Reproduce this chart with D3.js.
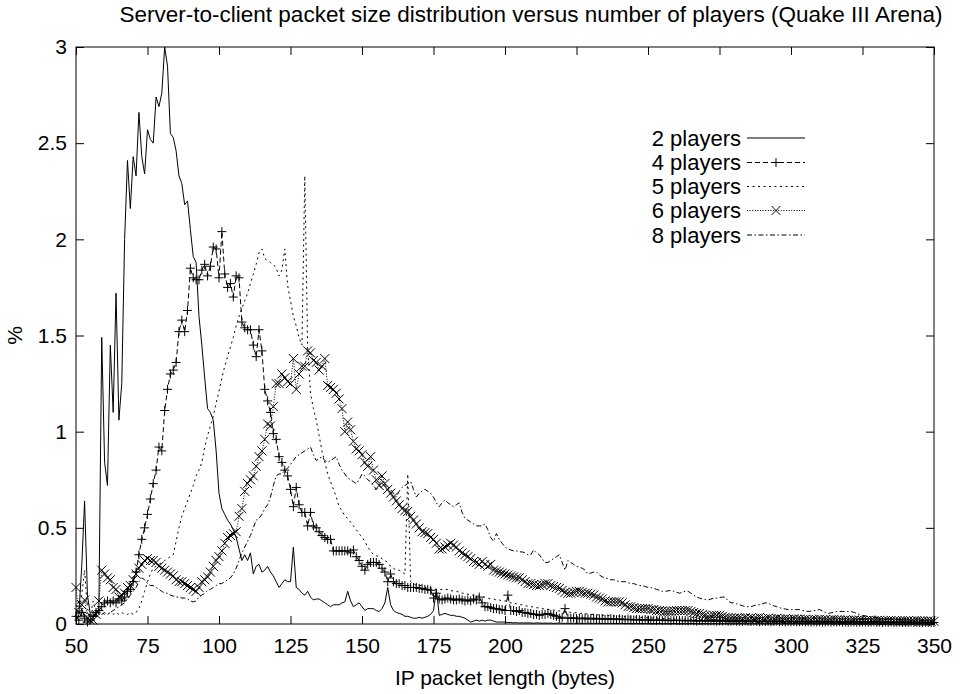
<!DOCTYPE html>
<html><head><meta charset="utf-8">
<script src="https://cdn.jsdelivr.net/npm/d3@7"></script>
<style>
body{margin:0;background:#fff;}
svg text{font-family:"Liberation Sans",Arial,Helvetica,sans-serif;fill:#000;}
</style></head><body>
<svg id="chart" width="960" height="694"></svg>
<script>
const chartTitle = "Server-to-client packet size distribution versus number of players (Quake III Arena)";
const xAxisTitle = "IP packet length (bytes)";
const yAxisTitle = "%";
const xTickValues = [50,75,100,125,150,175,200,225,250,275,300,325,350];
const yTickValues = [0,0.5,1,1.5,2,2.5,3];
const yTickLabels = ["0","0.5","1","1.5","2","2.5","3"];
const seriesNames = ["2 players","4 players","5 players","6 players","8 players"];
const firstByte = 50;   // packet length (bytes) of the first value in every series, one value per byte

const players2 = [
0.02,0.05,0.30,0.64,0.15,0.05,0.04,0.05,0.08,1.49,
0.84,0.72,1.45,1.10,1.72,1.06,1.25,2.00,2.41,2.16,
2.43,2.33,2.66,2.43,2.34,2.57,2.52,2.50,2.74,2.69,
2.76,3.00,2.90,2.55,2.53,2.46,2.33,2.29,2.18,2.20,
2.05,1.91,1.88,1.60,1.45,1.28,1.12,1.10,1.06,0.90,
0.68,0.60,0.57,0.54,0.52,0.49,0.45,0.39,0.33,0.36,
0.33,0.37,0.26,0.30,0.31,0.27,0.28,0.30,0.27,0.25,
0.22,0.19,0.21,0.23,0.22,0.22,0.40,0.19,0.18,
0.16,0.15,0.17,0.14,0.125,0.13,0.13,0.12,0.11,0.10,
0.09,0.10,0.10,0.10,0.11,0.115,0.17,0.12,0.09,0.10,
0.11,0.09,0.07,0.08,0.08,0.08,0.07,0.065,0.08,0.11,
0.19,0.10,0.07,0.06,0.055,0.05,0.04,0.04,0.035,0.03,
0.03,0.035,0.03,0.035,0.04,0.05,0.07,0.18,0.045,
0.05,0.055,0.05,0.045,0.045,0.04,0.04,0.035,0.03,0.02,
0.01,0.015,0.02,0.015,0.02,0.015,0.02,0.02,0.015,0.01,
0.01,0.01,0.01,0.008,0.008,0.006,0.007,0.005,0.006,0.005,
0.006,0.005,0.004,0.006,0.005,0.004,0.005,0.004,0.005,0.003,
0.004,0.005,0.004,0.003,0.004,0.003,0.004,0.003,0.004,0.003,
0.003,0.004,0.003,0.003,0.004,0.003,0.003,0.003,0.002,0.003,
0.003,0.002,0.003,0.003,0.002,0.003,0.002,0.003,0.002,0.002,
0.003,0.002,0.002,0.002,0.002,0.002,0.003,0.002,0.002,
0.002,0.002,0.003,0.002,0.001,0.002,0.002,0.002,0.003,0.002,
0.002,0.001,0.002,0.002,0.002,0.001,0.002,0.002,0.001,0.002,
0.002,0.002,0.001,0.002,0.001,0.002,0.002,0.001,0.002,0.001,
0.002,0.001,0.001,0.002,0.001,0.002,0.001,0.001,0.002,0.001,
0.001,0.002,0.001,0.001,0.001,0.002,0.001,0.001,0.001,0.002,
0.001,0.001,0.001,0.001,0.002,0.001,0.001,0.001,0.001,0.001,
0.001,0.001,0.002,0.001,0.001,0.001,0.001,0.001,0.001,
0.001,0.001,0.001,0.001,0.001,0.001,0.002,0.001,0.001,0.001,
0.001,0.001,0.001,0.001,0.001,0.001,0.001,0.001,0.001,0.001,
0.001,0.001,0.001,0.001,0.001];

const players4 = [
0.04,0.02,0.06,0.03,0.01,0.02,0.04,0.06,0.07,0.09,
0.11,0.12,0.11,0.12,0.11,0.13,0.12,0.14,0.17,0.18,
0.22,0.27,0.36,0.44,0.50,0.57,0.65,0.73,0.80,0.92,
0.90,1.11,1.22,1.30,1.32,1.36,1.52,1.58,1.52,1.63,
1.85,1.80,1.79,1.79,1.84,1.87,1.81,1.86,1.96,1.95,
1.80,2.04,1.82,1.75,1.77,1.70,1.81,1.80,1.57,1.54,
1.53,1.53,1.45,1.39,1.53,1.42,1.22,1.16,1.10,0.99,
0.96,0.87,0.84,0.80,0.77,0.70,0.61,0.71,0.62,
0.58,0.58,0.51,0.58,0.51,0.50,0.48,0.46,0.45,0.44,
0.44,0.38,0.38,0.38,0.38,0.38,0.38,0.37,0.385,0.35,
0.33,0.30,0.28,0.31,0.32,0.32,0.32,0.31,0.29,0.27,
0.22,0.26,0.22,0.21,0.21,0.20,0.20,0.19,0.19,0.19,
0.19,0.185,0.185,0.18,0.18,0.175,0.135,0.16,0.13,
0.125,0.13,0.135,0.13,0.125,0.125,0.13,0.125,0.12,0.125,
0.12,0.13,0.125,0.14,0.11,0.09,0.09,0.085,0.08,0.08,
0.075,0.075,0.07,0.15,0.07,0.07,0.065,0.07,0.06,0.06,
0.055,0.055,0.05,0.05,0.045,0.05,0.05,0.055,0.05,0.045,
0.04,0.03,0.035,0.08,0.03,0.03,0.032,0.028,0.03,0.027,
0.031,0.026,0.028,0.03,0.025,0.027,0.029,0.024,0.026,0.028,
0.025,0.023,0.027,0.024,0.022,0.025,0.023,0.021,0.024,0.022,
0.02,0.023,0.021,0.02,0.02,0.019,0.021,0.018,0.02,
0.019,0.017,0.02,0.018,0.019,0.017,0.018,0.016,0.019,0.017,
0.015,0.018,0.016,0.017,0.015,0.017,0.016,0.014,0.016,0.015,
0.017,0.014,0.015,0.016,0.014,0.015,0.013,0.016,0.014,0.013,
0.015,0.014,0.012,0.014,0.013,0.014,0.012,0.013,0.015,0.012,
0.013,0.011,0.013,0.012,0.013,0.011,0.012,0.013,0.011,0.012,
0.01,0.012,0.011,0.012,0.01,0.011,0.012,0.01,0.011,0.01,
0.012,0.01,0.011,0.009,0.01,0.011,0.009,0.01,0.011,
0.01,0.009,0.01,0.011,0.009,0.01,0.008,0.01,0.009,0.01,
0.008,0.009,0.01,0.008,0.009,0.008,0.01,0.008,0.009,0.008,
0.007,0.009,0.008,0.007,0.008];

const players5 = [
0.10,0.05,0.15,0.28,0.08,0.04,0.12,0.06,0.05,0.06,
0.05,0.05,0.06,0.05,0.06,0.05,0.06,0.05,0.05,0.06,
0.05,0.06,0.08,0.12,0.17,0.22,0.26,0.29,0.30,0.31,
0.32,0.33,0.34,0.35,0.36,0.43,0.50,0.56,0.60,0.64,
0.68,0.72,0.77,0.80,0.84,0.92,0.98,1.03,1.08,1.15,
1.21,1.28,1.34,1.39,1.44,1.49,1.55,1.60,1.64,1.68,
1.72,1.77,1.82,1.87,1.93,1.95,1.90,1.89,1.88,1.87,
1.85,1.81,1.84,1.95,1.76,1.68,1.60,1.55,1.49,
1.45,2.33,1.44,1.20,1.12,1.06,0.98,0.90,0.84,0.78,
0.74,0.70,0.66,0.61,0.59,0.56,0.55,0.53,0.51,0.49,
0.47,0.45,0.43,0.40,0.38,0.36,0.355,0.35,0.34,0.33,
0.32,0.30,0.29,0.28,0.28,0.27,0.26,0.78,0.22,0.21,
0.20,0.20,0.20,0.19,0.19,0.19,0.18,0.18,0.18,
0.18,0.18,0.18,0.175,0.17,0.17,0.165,0.16,0.16,0.155,
0.15,0.15,0.15,0.145,0.14,0.14,0.135,0.13,0.13,0.125,
0.125,0.12,0.12,0.115,0.11,0.11,0.105,0.10,0.10,0.095,
0.092,0.09,0.088,0.085,0.083,0.08,0.078,0.076,0.075,0.072,
0.07,0.068,0.066,0.065,0.063,0.06,0.059,0.058,0.056,0.055,
0.053,0.052,0.05,0.05,0.048,0.047,0.046,0.045,0.044,0.043,
0.042,0.041,0.04,0.039,0.038,0.037,0.036,0.036,0.035,0.034,
0.034,0.033,0.032,0.032,0.03,0.031,0.029,0.028,0.029,
0.027,0.028,0.026,0.027,0.025,0.026,0.024,0.025,0.023,0.024,
0.022,0.023,0.021,0.022,0.02,0.021,0.02,0.019,0.02,0.018,
0.019,0.017,0.018,0.017,0.016,0.017,0.015,0.016,0.015,0.014,
0.015,0.014,0.013,0.014,0.013,0.012,0.013,0.012,0.011,0.012,
0.011,0.01,0.011,0.01,0.01,0.009,0.01,0.009,0.009,0.008,
0.009,0.008,0.008,0.007,0.008,0.007,0.007,0.006,0.007,0.006,
0.006,0.005,0.006,0.005,0.005,0.006,0.005,0.005,0.004,
0.004,0.004,0.005,0.004,0.004,0.004,0.003,0.004,0.003,0.004,
0.003,0.003,0.003,0.003,0.003,0.003,0.002,0.003,0.002,0.003,
0.002,0.002,0.003,0.002,0.002];

const players6 = [
0.19,0.06,0.10,0.125,0.03,0.02,0.02,0.05,0.12,0.28,
0.26,0.24,0.23,0.19,0.18,0.14,0.15,0.16,0.19,0.20,
0.23,0.26,0.29,0.31,0.33,0.34,0.33,0.33,0.32,0.30,
0.29,0.28,0.27,0.26,0.25,0.23,0.22,0.22,0.21,0.20,
0.19,0.18,0.17,0.19,0.22,0.23,0.245,0.27,0.30,0.33,
0.35,0.38,0.42,0.45,0.46,0.47,0.48,0.56,0.60,0.69,
0.73,0.75,0.77,0.82,0.87,0.90,0.96,1.04,1.03,1.13,
1.25,1.25,1.30,1.28,1.26,1.25,1.38,1.22,1.30,
1.34,1.34,1.42,1.41,1.37,1.36,1.32,1.34,1.38,1.24,
1.23,1.22,1.20,1.17,1.12,1.00,1.05,1.01,0.95,0.91,
0.90,0.88,0.84,0.82,0.87,0.80,0.75,0.72,0.77,0.73,
0.70,0.68,0.66,0.64,0.62,0.60,0.59,0.585,0.56,0.54,
0.52,0.50,0.48,0.475,0.47,0.45,0.44,0.42,0.39,
0.39,0.40,0.41,0.42,0.41,0.40,0.38,0.37,0.36,0.35,
0.34,0.325,0.32,0.31,0.325,0.31,0.30,0.31,0.28,0.275,
0.27,0.265,0.26,0.255,0.25,0.245,0.24,0.24,0.23,0.22,
0.21,0.21,0.205,0.20,0.20,0.205,0.21,0.21,0.20,0.195,
0.19,0.185,0.175,0.165,0.16,0.16,0.165,0.17,0.17,0.165,
0.16,0.16,0.155,0.15,0.14,0.135,0.13,0.12,0.115,0.115,
0.115,0.115,0.115,0.11,0.10,0.09,0.09,0.085,0.08,0.08,
0.08,0.08,0.08,0.075,0.075,0.07,0.07,0.068,0.065,
0.065,0.066,0.068,0.07,0.07,0.07,0.07,0.07,0.065,0.06,
0.055,0.055,0.05,0.045,0.04,0.042,0.045,0.045,0.045,0.04,
0.035,0.033,0.03,0.03,0.03,0.032,0.028,0.033,0.029,0.031,
0.027,0.03,0.034,0.028,0.026,0.03,0.027,0.025,0.029,0.026,
0.024,0.028,0.025,0.023,0.027,0.024,0.026,0.022,0.025,0.023,
0.021,0.024,0.022,0.025,0.021,0.023,0.02,0.022,0.024,0.02,
0.021,0.019,0.022,0.02,0.018,0.021,0.019,0.02,0.018,
0.017,0.019,0.02,0.017,0.018,0.019,0.016,0.018,0.017,0.019,
0.016,0.017,0.015,0.018,0.016,0.017,0.015,0.016,0.018,0.015,
0.016,0.014,0.016,0.015,0.014];

const players8 = [
0.05,0.12,0.08,0.04,0.06,0.03,0.05,0.04,0.06,0.05,
0.06,0.05,0.06,0.07,0.08,0.09,0.10,0.11,0.13,0.15,
0.17,0.19,0.22,0.24,0.23,0.21,0.20,0.20,0.19,0.18,
0.17,0.16,0.16,0.15,0.145,0.14,0.14,0.135,0.135,0.13,
0.12,0.115,0.12,0.14,0.15,0.16,0.175,0.18,0.19,0.20,
0.21,0.21,0.22,0.23,0.24,0.26,0.29,0.33,0.37,0.40,
0.43,0.46,0.50,0.54,0.55,0.57,0.60,0.62,0.66,0.72,
0.77,0.78,0.78,0.80,0.81,0.83,0.85,0.87,0.88,
0.89,0.90,0.91,0.92,0.88,0.85,0.86,0.87,0.85,0.84,
0.85,0.86,0.87,0.83,0.80,0.78,0.76,0.75,0.74,0.73,
0.75,0.78,0.77,0.75,0.74,0.72,0.70,0.71,0.73,0.72,
0.71,0.70,0.68,0.66,0.69,0.71,0.72,0.73,0.74,0.70,
0.66,0.68,0.69,0.70,0.69,0.68,0.66,0.63,0.61,
0.63,0.645,0.63,0.62,0.61,0.62,0.63,0.58,0.55,0.54,
0.53,0.52,0.51,0.51,0.51,0.52,0.49,0.45,0.43,0.47,
0.44,0.42,0.40,0.39,0.385,0.38,0.38,0.375,0.375,0.37,
0.36,0.36,0.385,0.37,0.36,0.34,0.32,0.32,0.33,0.34,
0.35,0.36,0.32,0.28,0.33,0.32,0.31,0.30,0.295,0.29,
0.28,0.26,0.265,0.27,0.27,0.255,0.245,0.24,0.235,0.23,
0.23,0.225,0.22,0.22,0.22,0.215,0.21,0.21,0.205,0.20,
0.20,0.195,0.19,0.19,0.185,0.18,0.175,0.17,0.17,
0.172,0.175,0.17,0.165,0.16,0.165,0.17,0.17,0.16,0.15,
0.14,0.135,0.13,0.128,0.125,0.13,0.133,0.135,0.138,0.14,
0.14,0.12,0.11,0.11,0.105,0.10,0.095,0.09,0.09,0.09,
0.095,0.10,0.10,0.105,0.11,0.11,0.10,0.095,0.09,0.085,
0.08,0.078,0.075,0.075,0.075,0.075,0.075,0.07,0.068,0.065,
0.067,0.07,0.072,0.075,0.068,0.06,0.055,0.058,0.062,0.065,
0.065,0.065,0.065,0.065,0.065,0.06,0.055,0.05,0.045,
0.042,0.04,0.037,0.035,0.032,0.03,0.028,0.027,0.026,0.025,
0.024,0.023,0.024,0.022,0.021,0.022,0.02,0.019,0.02,0.018,
0.017,0.018,0.016,0.015,0.015];

const seriesValues = [players2, players4, players5, players6, players8];

// ---- layout & style (not data) ----
const W = 960, H = 694;
const plot = {left: 76, right: 934, top: 47, bottom: 624};
const fontSize = 21;
const styles = [
  {dash: null,            marker: null},
  {dash: "5,3",           marker: "plus"},
  {dash: "2,3.5",         marker: null},
  {dash: "1,1.6",         marker: "cross"},
  {dash: "5,2.5,1.5,2.5", marker: null}
];

const svg = d3.select("#chart");
svg.append("rect").attr("width", W).attr("height", H).attr("fill", "#fff");

const x = d3.scaleLinear().domain([50, 350]).range([plot.left, plot.right]);
const y = d3.scaleLinear().domain([0, 3]).range([plot.bottom, plot.top]);

function styleAxis(g) {
  g.select(".domain").remove();
  g.selectAll(".tick line").attr("stroke", "#000").attr("stroke-width", 1);
  g.selectAll(".tick text").attr("font-size", fontSize).attr("fill", "#000")
    .attr("font-family", "Liberation Sans, Arial, Helvetica, sans-serif");
}

svg.append("g").attr("transform", `translate(0,${plot.bottom})`)
  .call(d3.axisBottom(x).tickValues(xTickValues).tickSize(-8).tickPadding(14).tickFormat(d3.format("d")))
  .call(styleAxis);
svg.append("g").attr("transform", `translate(0,${plot.top})`)
  .call(d3.axisTop(x).tickValues(xTickValues).tickSize(-8).tickFormat(""))
  .call(styleAxis);
svg.append("g").attr("transform", `translate(${plot.left},0)`)
  .call(d3.axisLeft(y).tickValues(yTickValues).tickSize(-8).tickPadding(9)
        .tickFormat((d, i) => yTickLabels[i]))
  .call(styleAxis);
svg.append("g").attr("transform", `translate(${plot.right},0)`)
  .call(d3.axisRight(y).tickValues(yTickValues).tickSize(-8).tickFormat(""))
  .call(styleAxis);

// frame
svg.append("rect")
  .attr("x", plot.left).attr("y", plot.top)
  .attr("width", plot.right - plot.left).attr("height", plot.bottom - plot.top)
  .attr("fill", "none").attr("stroke", "#000").attr("stroke-width", 1);

// titles
svg.append("text").attr("x", 531).attr("y", 22)
  .attr("text-anchor", "middle").attr("font-size", 22.5).text(chartTitle);
svg.append("text").attr("x", (plot.left + plot.right) / 2).attr("y", 685)
  .attr("text-anchor", "middle").attr("font-size", fontSize).text(xAxisTitle);
svg.append("text").attr("transform", `translate(22,${(plot.top + plot.bottom) / 2}) rotate(-90)`)
  .attr("text-anchor", "middle").attr("font-size", fontSize).text(yAxisTitle);

// series
const line = d3.line().x(d => x(d.b)).y(d => y(d.v));
const markerSize = 4.5;
function markerPath(kind, cx, cy, s) {
  if (kind === "plus") return `M${cx - s},${cy}H${cx + s}M${cx},${cy - s}V${cy + s}`;
  return `M${cx - s},${cy - s}L${cx + s},${cy + s}M${cx - s},${cy + s}L${cx + s},${cy - s}`;
}

const seriesData = seriesValues.map(vals => vals.map((v, i) => ({b: firstByte + i, v})));

const drawOrder = [4, 2, 3, 1, 0];
drawOrder.forEach(k => {
  const st = styles[k];
  const g = svg.append("g");
  g.append("path").datum(seriesData[k]).attr("d", line)
    .attr("fill", "none").attr("stroke", "#000").attr("stroke-width", 1)
    .attr("stroke-dasharray", st.dash);
  if (st.marker) {
    g.append("path")
      .attr("d", seriesData[k].map(d => markerPath(st.marker, x(d.b), y(d.v), markerSize)).join(""))
      .attr("fill", "none").attr("stroke", "#000").attr("stroke-width", 1);
  }
});

// legend
const legendRows = [138, 162.5, 186.5, 210.5, 235];
seriesNames.forEach((name, k) => {
  const cy = legendRows[k];
  const st = styles[k];
  svg.append("text").attr("x", 741).attr("y", cy).attr("dy", "0.35em")
    .attr("text-anchor", "end").attr("font-size", 22).text(name);
  svg.append("line").attr("x1", 747).attr("x2", 805).attr("y1", cy).attr("y2", cy)
    .attr("stroke", "#000").attr("stroke-width", 1).attr("stroke-dasharray", st.dash);
  if (st.marker) {
    svg.append("path").attr("d", markerPath(st.marker, 776, cy, markerSize))
      .attr("fill", "none").attr("stroke", "#000").attr("stroke-width", 1);
  }
});
</script>
</body></html>
